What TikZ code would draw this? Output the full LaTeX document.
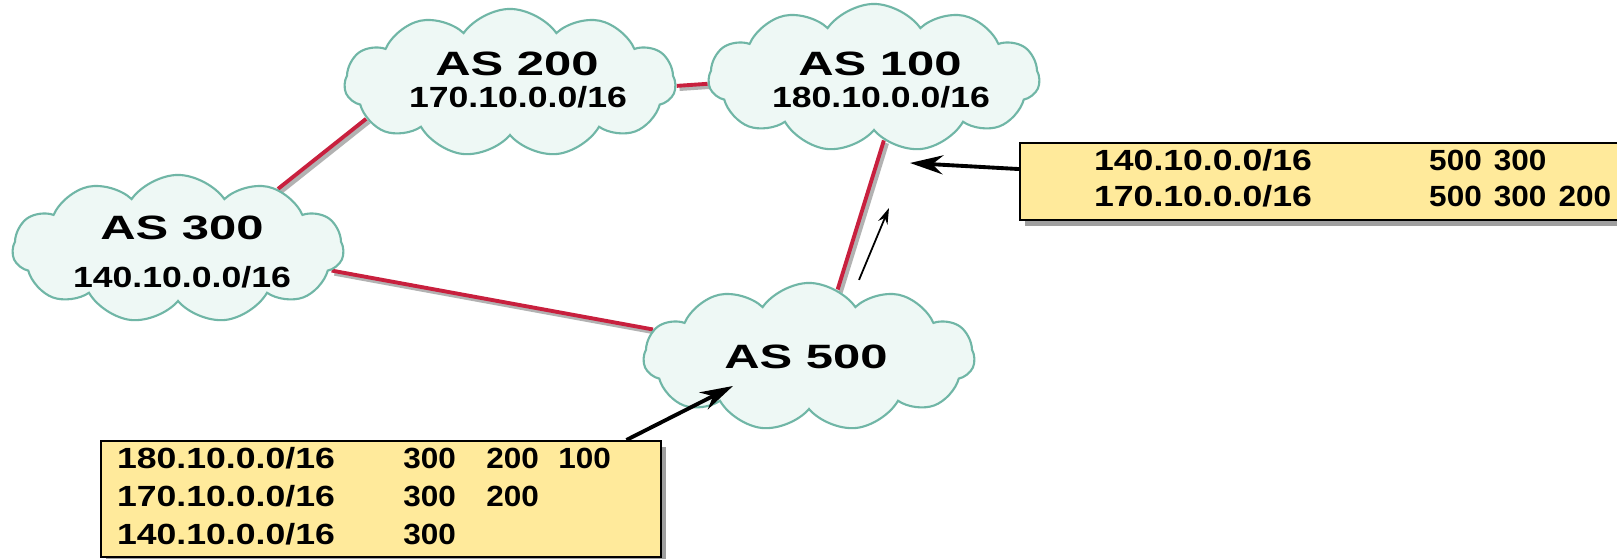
\documentclass[tikz,border=0pt]{standalone}
\usepackage{fontspec}
\setmainfont{Liberation Sans}
\usepackage{graphicx}
\usetikzlibrary{shapes.symbols,shadows,arrows.meta,backgrounds}
\definecolor{cloudmint}{RGB}{238, 248, 245}
\definecolor{cloudteal}{RGB}{112, 182, 166}
\definecolor{linkred}{RGB}{200, 32, 62}
\definecolor{ribyellow}{RGB}{255, 234, 155}

\newcommand{\asname}[1]{{\fontsize{9.6}{11}\selectfont\scalebox{1.45}[1]{#1}}}
\newcommand{\pfx}[1]{{\fontsize{8.3}{10}\selectfont\scalebox{1.22}[1]{#1}}}
\newcommand{\hops}[1]{{\fontsize{8.3}{10}\selectfont\scalebox{1.08}[1]{#1}}}

\tikzset{
  ascloud/.style={cloud, cloud puffs=11, cloud puff arc=110, cloud ignores aspect,
    draw=cloudteal, fill=cloudmint, line width=0.6pt, inner sep=0pt,
    minimum width=3.31cm, minimum height=1.48cm},
  cloudtext/.style={inner sep=0pt, font=\bfseries},
  link/.style={draw=linkred, line width=1.1pt,
    preaction={draw=black!30, line width=1.3pt,
      transform canvas={xshift=0.8pt, yshift=-0.8pt}}},
  ribbox/.style={draw=black, fill=ribyellow, line width=0.6pt, rectangle,
    anchor=north west, align=left, font=\bfseries,
    drop shadow={shadow xshift=0.05cm, shadow yshift=-0.06cm, opacity=0.75}},
  advert/.style={line width=1.1pt, -{Stealth[length=0.33cm, width=0.19cm]}},
  hint/.style={line width=0.5pt, -{Stealth[length=0.16cm, width=0.1cm]}}
}

\begin{document}
\begin{tikzpicture}[x=0.01cm, y=-0.01cm]
  \useasboundingbox (0,0) rectangle (1617,559);

  % autonomous systems
  \node[ascloud] (as200) at (510,83) {};
  \node[ascloud] (as100) at (874,78) {};
  \node[ascloud] (as300) at (178,249) {};
  \node[ascloud] (as500) at (809,357) {};

  \node[cloudtext] (as200n) at (517,64) {\asname{AS 200}};
  \node[cloudtext] (as200p) at (518,97) {\pfx{170.10.0.0/16}};
  \node[cloudtext] (as100n) at (880,64) {\asname{AS 100}};
  \node[cloudtext] (as100p) at (881,97) {\pfx{180.10.0.0/16}};
  \node[cloudtext] (as300n) at (182,228) {\asname{AS 300}};
  \node[cloudtext] (as300p) at (182,277) {\pfx{140.10.0.0/16}};
  \node[cloudtext] (as500n) at (806,357) {\asname{AS 500}};

  % peering links
  \begin{scope}[on background layer]
    \fill[white] (0,0) rectangle (1617,559);
    \draw[link] (as300.31) -- (as200.194);
    \draw[link] (as200.-1) -- (as100.182);
    \draw[link] (as300.-8) -- (as500.170);
    \draw[link] (as100.-81) -- (as500.67);
  \end{scope}

  % received routes
  \node[ribbox, inner xsep=0.74cm, inner ysep=0pt, text width=5cm,
    minimum height=0.77cm, font=\bfseries\fontsize{8.3}{10.2}\selectfont] (rib100) at (1019,142)
    {\begin{tabular}{@{}p{95.3pt}@{}p{18.4pt}@{}p{18.4pt}@{}l@{}}
      \pfx{140.10.0.0/16} & \hops{500} & \hops{300} & \\
      \pfx{170.10.0.0/16} & \hops{500} & \hops{300} & \hops{200}
    \end{tabular}};
  \node[ribbox, inner xsep=0.16cm, inner ysep=0pt, text width=5.28cm,
    minimum height=1.16cm, font=\bfseries\fontsize{8.3}{10.7}\selectfont] (rib500) at (100,440)
    {\begin{tabular}{@{}p{81.4pt}@{}p{23.6pt}@{}p{20.5pt}@{}l@{}}
      \pfx{180.10.0.0/16} & \hops{300} & \hops{200} & \hops{100} \\
      \pfx{170.10.0.0/16} & \hops{300} & \hops{200} & \\
      \pfx{140.10.0.0/16} & \hops{300} & &
    \end{tabular}};

  \coordinate (hit100) at (910,163);
  \coordinate (hit500) at (733,386);
  \coordinate (up500) at (889,208);

  \draw[advert] ([yshift=0.125cm]rib100.west) -- (hit100);
  \draw[advert] ([xshift=-0.36cm]rib500.north east) -- (hit500);
  \draw[hint] ([xshift=0.5cm, yshift=0.02cm]as500.north) -- (up500);
\end{tikzpicture}
\end{document}
